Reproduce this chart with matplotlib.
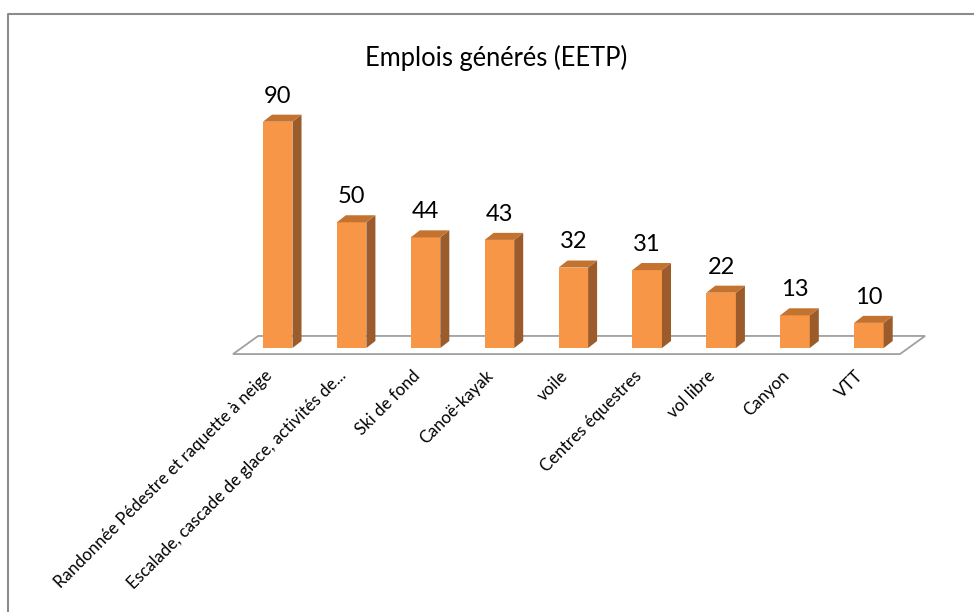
import matplotlib
matplotlib.use('Agg')
import matplotlib.pyplot as plt
from matplotlib.patches import Polygon
from matplotlib.lines import Line2D

# data
activites = [
    'Randonnée Pédestre et raquette à neige',
    'Escalade, cascade de glace, activités de...',
    'Ski de fond',
    'Canoë-kayak',
    'voile',
    'Centres équestres',
    'vol libre',
    'Canyon',
    'VTT',
]
emplois = [90, 50, 44, 43, 32, 31, 22, 13, 10]
titre = 'Emplois générés (EETP)'

# colours (Excel orange, 3D shading)
col_face = '#F79646'
col_side = '#9B5B2B'
col_top = '#C3722F'
col_floor = '#A0A0A0'

plt.rcParams['font.family'] = ['Lato', 'DejaVu Sans']

fig = plt.figure(figsize=(9.74, 6.12), dpi=100)
ax = fig.add_axes([0, 0, 1, 1])
ax.set_xlim(-3.758, 9.422)
ax.set_ylim(-104.97, 138.4)
ax.axis('off')

n = len(emplois)
x = list(range(n))
w = 0.4
ddx, ddy = 0.122, 2.8          # bar depth (3D look)

# floor of the 3D chart
fx0, fx1 = -0.605, n - 1 + 0.42
fy0, fy1 = -2.4, 4.8
fdx = 0.34
floor = Polygon([(fx0, fy0), (fx1, fy0), (fx1 + fdx, fy1), (fx0 + fdx, fy1)],
                closed=True, facecolor='white', edgecolor=col_floor,
                linewidth=1.3, zorder=1)
ax.add_patch(floor)

ax.bar(x, emplois, width=w, color=col_face, zorder=3)
for xi, v in zip(x, emplois):
    r = xi + w / 2
    l = xi - w / 2
    ax.add_patch(Polygon([(r, 0), (r + ddx, ddy), (r + ddx, v + ddy), (r, v)],
                         closed=True, facecolor=col_side, edgecolor='none', zorder=3))
    ax.add_patch(Polygon([(l, v), (r, v), (r + ddx, v + ddy), (l + ddx, v + ddy)],
                         closed=True, facecolor=col_top, edgecolor='none', zorder=3))
    ax.annotate(str(v), (xi, v), xytext=(0, 18.5), textcoords='offset points',
                ha='center', va='center', fontsize=17, color='black')

for xi, name in zip(x, activites):
    ax.annotate(name, (xi, 0), xytext=(-6, -18), textcoords='offset points',
                rotation=45, ha='right', va='center', rotation_mode='anchor',
                fontsize=12.2, color='black')

fig.text(496 / 974, 1 - 58 / 612, titre, ha='center', va='center', fontsize=18.4)

# chart area border (only left/top visible in the crop)
bx = 7.5 / 974
by = 1 - 14 / 612
fig.add_artist(Line2D([bx, bx, 1.0], [0.0, by, by], transform=fig.transFigure,
                      color='#8C8C8C', linewidth=1.5))

fig.savefig('out.png', dpi=100, facecolor='white')
